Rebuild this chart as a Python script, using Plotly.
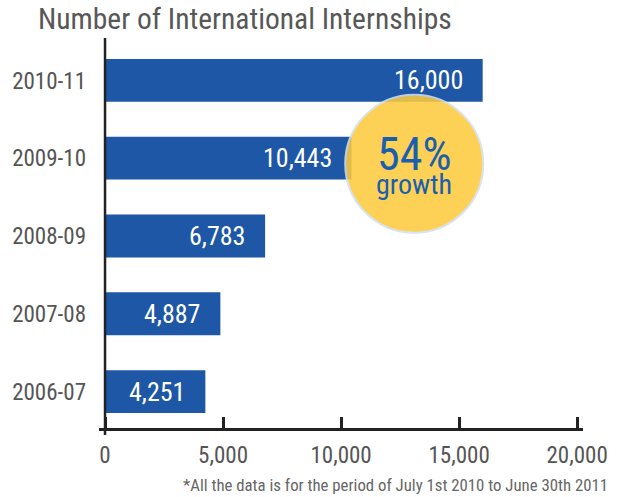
import plotly.graph_objects as go

# Internship counts per academic year (bottom to top)
years = ["2006-07", "2007-08", "2008-09", "2009-10", "2010-11"]
internships = [4251, 4887, 6783, 10443, 16000]

x_ticks = [0, 5000, 10000, 15000, 20000]
x_tick_labels = ["0", "5,000", "10,000", "15,000", "20,000"]

title_text = "Number of International Internships"
footnote_text = "*All the data is for the period of July 1st 2010 to June 30th 2011"
growth_pct = "54%"
growth_word = "growth"

FONT = "Roboto Condensed, Barlow Condensed, Archivo Narrow, sans-serif"
BAR_BLUE = "#1e57a6"
AXIS_DARK = "#222222"
GREY_TEXT = "#555555"

fig = go.Figure()

fig.add_trace(go.Bar(
    y=years,
    x=internships,
    orientation="h",
    width=0.55,
    marker=dict(color=BAR_BLUE, line=dict(width=0)),
    hoverinfo="skip",
))

# value labels, right-aligned inside each bar
for yr, v in zip(years, internships):
    fig.add_annotation(
        x=v, y=yr, xref="x", yref="y",
        text=f"{v:,}", showarrow=False,
        xanchor="right", yanchor="middle", xshift=-18,
        font=dict(family=FONT, size=26, color="white"),
    )

# vertical axis line at zero, running a little past the baseline
fig.add_shape(
    type="line", xref="x", yref="paper",
    x0=0, x1=0, y0=-0.018, y1=1,
    line=dict(color=AXIS_DARK, width=2.5),
    layer="above",
)

# growth badge
badge_x = 13100
badge_y = 2.93
fig.add_shape(
    type="circle", xref="x", yref="y",
    xsizemode="pixel", ysizemode="pixel",
    xanchor=badge_x, yanchor=badge_y,
    x0=-69, x1=69, y0=-69, y1=69,
    fillcolor="#fdcb3e",
    line=dict(color="#d3e0f0", width=2),
    opacity=0.87,
    layer="above",
)
fig.add_annotation(
    x=badge_x, y=badge_y, xref="x", yref="y",
    text=growth_pct, showarrow=False, yshift=10,
    font=dict(family=FONT, size=46, color="#1a5fae"),
)
fig.add_annotation(
    x=badge_x, y=badge_y, xref="x", yref="y",
    text=growth_word, showarrow=False, yshift=-21,
    font=dict(family=FONT, size=28, color="#1a5fae"),
)

fig.add_annotation(
    x=1.0556, y=-0.146, xref="paper", yref="paper",
    text=footnote_text, showarrow=False,
    xanchor="right", yanchor="middle",
    font=dict(family=FONT, size=16.8, color="#666666"),
)

fig.update_layout(
    width=625, height=497,
    margin=dict(l=99, r=42, t=38, b=69),
    paper_bgcolor="white", plot_bgcolor="white",
    showlegend=False,
    title=dict(
        text=title_text,
        x=38 / 625, xanchor="left",
        y=1 - 19 / 497, yanchor="middle",
        font=dict(family=FONT, size=29.5, color="#575757"),
    ),
    xaxis=dict(
        range=[-255, 20250],
        tickvals=x_ticks, ticktext=x_tick_labels,
        showgrid=False, zeroline=False,
        showline=True, linecolor=AXIS_DARK, linewidth=2.5,
        ticks="inside", ticklen=11, tickwidth=2.5, tickcolor=AXIS_DARK,
        tickfont=dict(family=FONT, size=23, color=GREY_TEXT),
        ticklabelstandoff=5,
        automargin=False,
        fixedrange=True,
    ),
    yaxis=dict(
        type="category",
        categoryorder="array", categoryarray=years,
        range=[-0.469, 4.546],
        showgrid=False, zeroline=False, showline=False,
        ticks="",
        tickfont=dict(family=FONT, size=23, color=GREY_TEXT),
        ticklabelstandoff=12,
        automargin=False,
        fixedrange=True,
    ),
)

fig.write_html("out.html")
